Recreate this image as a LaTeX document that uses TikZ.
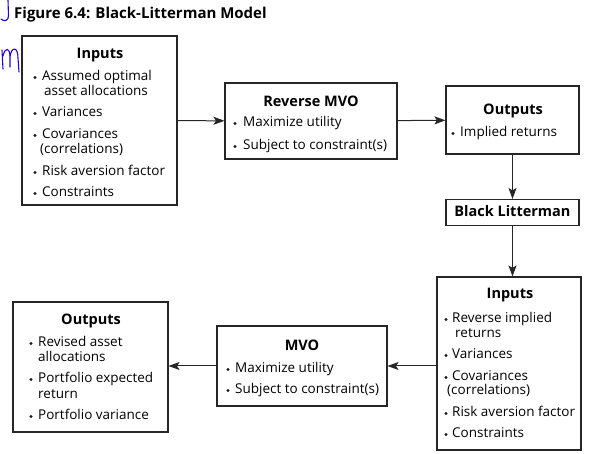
\documentclass[tikz,border=0pt]{standalone}
\usepackage{fontspec}
\setmainfont{Open Sans}
\usetikzlibrary{arrows.meta}
\tikzset{
  box/.style={draw=black!85, line width=1.1pt, rectangle, inner sep=0pt, fill=white},
  head/.style={font=\fontsize{14.5}{16}\selectfont\bfseries, inner sep=0pt, anchor=mid},
  txt/.style={font=\fontsize{13.5}{15}\selectfont, inner sep=0pt, anchor=mid west},
  dot/.style={circle, fill=black!90, inner sep=0pt, minimum size=3.3pt},
  arr/.style={line width=1pt, draw=black!85, -{Stealth[length=11pt,width=8pt,inset=2.5pt]}},
  scribble/.style={draw=blue!70!violet, line width=1.1pt, line cap=round, line join=round}
}
\begin{document}
\begin{tikzpicture}[x=1pt,y=-1pt]
\useasboundingbox (0,0) rectangle (592,454);
% title
\node[font=\fontsize{15}{17}\selectfont\bfseries, anchor=west, inner sep=0pt] (title) at (14,15) {Figure 6.4: Black-Litterman Model};
% handwritten marks
\draw[scribble] (8,0) -- (8.5,16) .. controls (8.5,21) and (4,22) .. (1,19);
\draw[scribble] (2,50) -- (3,69);
\draw[scribble] (3,56) .. controls (5,47) and (10,47) .. (10,57) -- (10,67);
\draw[scribble] (10,56) .. controls (12,46) and (18,47) .. (18,58) -- (19,72);

% boxes
\node[box, minimum width=155pt, minimum height=169pt] (in1) at (99.5,120.5) {};
\node[box, minimum width=172pt, minimum height=76pt] (rmvo) at (311,121) {};
\node[box, minimum width=133pt, minimum height=68pt] (out1) at (512.5,120) {};
\node[box, minimum width=133pt, minimum height=26pt] (bl) at (512.5,212.5) {};
\node[box, minimum width=144pt, minimum height=173pt] (in2) at (509,363.5) {};
\node[box, minimum width=170pt, minimum height=80pt] (mvo) at (302,366) {};
\node[box, minimum width=155pt, minimum height=130pt] (out2) at (90.5,367) {};

% connectors
\draw[arr] (in1) -- (rmvo);
\draw[arr] (rmvo) -- (out1);
\draw[arr] (out1.south) -- (bl.north);
\draw[arr] (bl.south) -- (bl.south |- in2.north);
\draw[arr] (mvo.east -| in2.west) -- (mvo.east);
\draw[arr] (mvo.west) -- (mvo.west -| out2.east);

\begin{scope}[shift={(0,2.5)}]
% Inputs (top)
\node[head] (in1h) at (100,53) {Inputs};
\node[dot] (in1d1) at (35,75) {};
\node[txt] (in1t1) at (42,75) {Assumed optimal};
\node[txt] (in1t1b) at (44,90) {asset allocations};
\node[dot] (in1d2) at (35,111) {};
\node[txt] (in1t2) at (42,111) {Variances};
\node[dot] (in1d3) at (35,133) {};
\node[txt] (in1t3) at (42,133) {Covariances};
\node[txt] (in1t3b) at (40,148) {(correlations)};
\node[dot] (in1d4) at (35,170) {};
\node[txt] (in1t4) at (42,170) {Risk aversion factor};
\node[dot] (in1d5) at (35,191) {};
\node[txt] (in1t5) at (42,191) {Constraints};

% Reverse MVO
\node[head] (rmvoh) at (311,101) {Reverse MVO};
\node[dot] (rmvod1) at (235,121) {};
\node[txt] (rmvot1) at (243,121) {Maximize utility};
\node[dot] (rmvod2) at (235,144) {};
\node[txt] (rmvot2) at (243,144) {Subject to constraint(s)};

% Outputs (top)
\node[head] (out1h) at (513,109) {Outputs};
\node[dot] (out1d1) at (453,131) {};
\node[txt] (out1t1) at (460,131) {Implied returns};

% Black Litterman
\node[head] (blh) at (512.5,211.5) {Black Litterman};

% Inputs (bottom)
\node[head] (in2h) at (510,293) {Inputs};
\node[dot] (in2d1) at (446,317) {};
\node[txt] (in2t1) at (452,317) {Reverse implied};
\node[txt] (in2t1b) at (455,332) {returns};
\node[dot] (in2d2) at (446,353) {};
\node[txt] (in2t2) at (452,353) {Variances};
\node[dot] (in2d3) at (446,375) {};
\node[txt] (in2t3) at (452,375) {Covariances};
\node[txt] (in2t3b) at (447,389) {(correlations)};
\node[dot] (in2d4) at (446,411) {};
\node[txt] (in2t4) at (452,411) {Risk aversion factor};
\node[dot] (in2d5) at (446,432) {};
\node[txt] (in2t5) at (452,432) {Constraints};

% MVO
\node[head] (mvoh) at (302,345) {MVO};
\node[dot] (mvod1) at (228,367) {};
\node[txt] (mvot1) at (235,367) {Maximize utility};
\node[dot] (mvod2) at (228,388) {};
\node[txt] (mvot2) at (235,388) {Subject to constraint(s)};

% Outputs (bottom)
\node[head] (out2h) at (91,319) {Outputs};
\node[dot] (out2d1) at (31,341) {};
\node[txt] (out2t1) at (38,341) {Revised asset};
\node[txt] (out2t1b) at (38,356) {allocations};
\node[dot] (out2d2) at (31,377) {};
\node[txt] (out2t2) at (38,377) {Portfolio expected};
\node[txt] (out2t2b) at (38,393) {return};
\node[dot] (out2d3) at (31,414) {};
\node[txt] (out2t3) at (38,414) {Portfolio variance};
\end{scope}
\end{tikzpicture}
\end{document}
